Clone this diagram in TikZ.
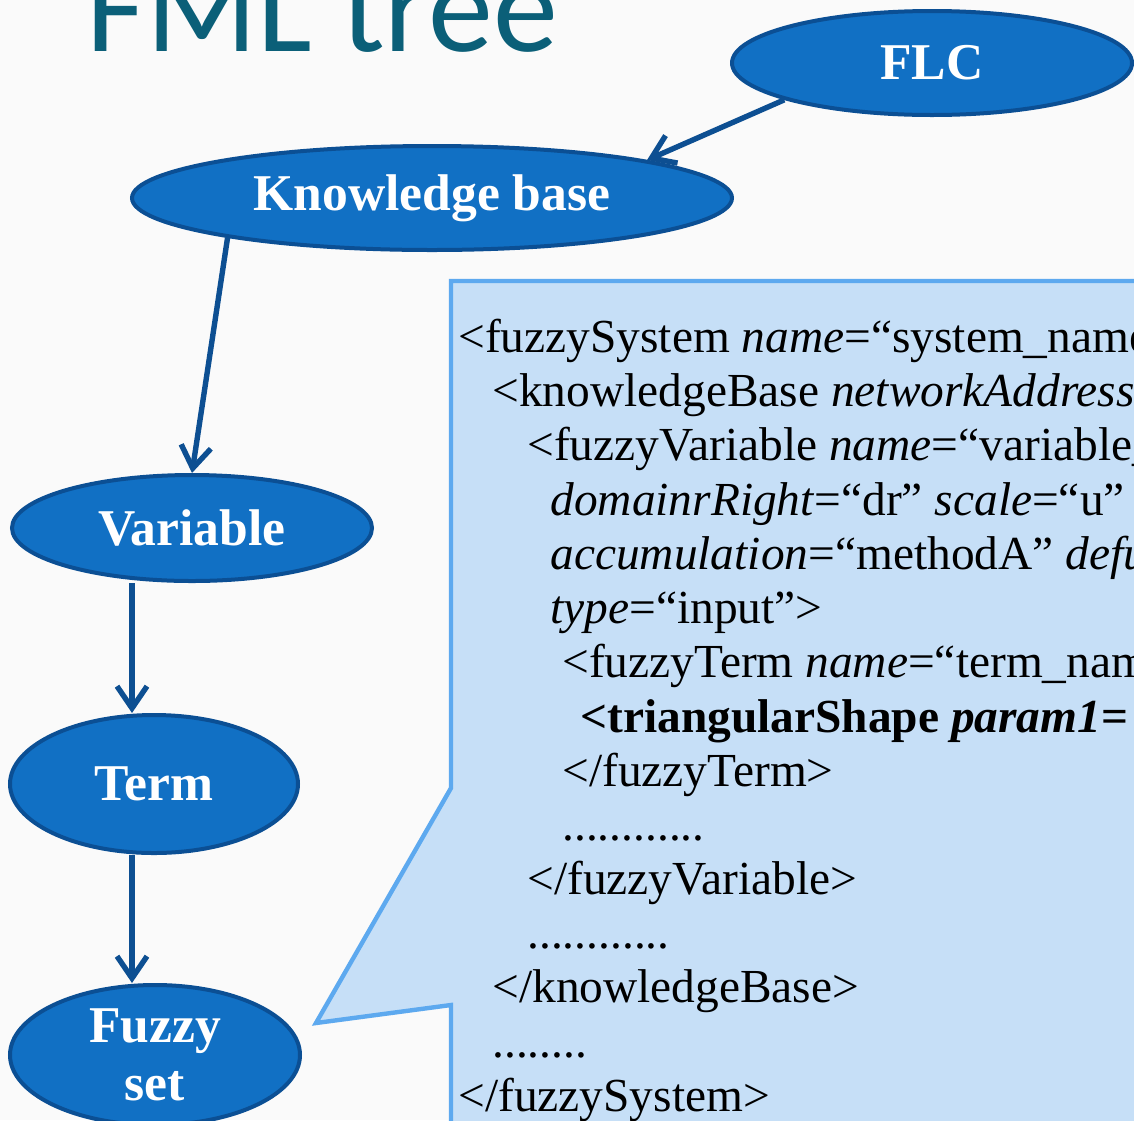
\documentclass[tikz,border=0pt]{standalone}
\usepackage{fontspec}
\setmainfont{Liberation Serif}
\newfontfamily\titlefont{Carlito}
\usetikzlibrary{shapes.geometric,arrows.meta}
\definecolor{nodeblue}{HTML}{1170C4}
\definecolor{nodeedge}{HTML}{0B4F94}
\definecolor{arrowblue}{HTML}{0D4F92}
\definecolor{calloutfill}{HTML}{C6DFF7}
\definecolor{calloutedge}{HTML}{5DA9EF}
\definecolor{titleteal}{HTML}{0B5F78}
\definecolor{slidebg}{HTML}{FAFAFA}
\tikzset{
  treenode/.style={ellipse, fill=nodeblue, draw=nodeedge, line width=2pt,
    text=white, font=\bfseries\fontsize{25.8}{29}\selectfont, inner sep=0pt},
  treearrow/.style={arrowblue, line width=2.7pt,
    -{Straight Barb[length=11pt,width=15pt]}},
  codeline/.style={anchor=base west, inner sep=0pt,
    font=\fontsize{23.7}{27}\selectfont},
}

\begin{document}
\begin{tikzpicture}[x=0.5pt,y=-0.5pt]
  \useasboundingbox (0,0) rectangle (1134,1120);
  \clip (0,0) rectangle (1134,1120);
  \fill[slidebg] (0,0) rectangle (1134,1120);
  % title, cut off at the top
  \node[anchor=base west, inner sep=0pt, text=titleteal,
    font=\titlefont\fontsize{65}{65}\selectfont] (title) at (86,51) {FML tree};
  % callout with the xml
  \filldraw[fill=calloutfill, draw=calloutedge, line width=2.2pt]
    (451,281) -- (1150,281) -- (1150,1140) -- (451,1140) -- (451,1005)
    -- (316,1023) -- (451,788) -- cycle;
  \node[codeline] (c1) at (458,352) {<fuzzySystem \textit{name}=“system\_name};
  \node[codeline] (c2) at (492,406) {<knowledgeBase \textit{networkAddress}};
  \node[codeline] (c3) at (527,460) {<fuzzyVariable \textit{name}=“variable\_};
  \node[codeline] (c4) at (550,515) {\textit{domainrRight}=“dr” \textit{scale}=“u” \textit{d}};
  \node[codeline] (c5) at (550,569) {\textit{accumulation}=“methodA” \textit{defu}};
  \node[codeline] (c6) at (550,623) {\textit{type}=“input”>};
  \node[codeline] (c7) at (562,677) {<fuzzyTerm \textit{name}=“term\_nam};
  \node[codeline] (c8) at (580,732) {\textbf{<triangularShape \textit{param1}=}};
  \node[codeline] (c9) at (562,786) {</fuzzyTerm>};
  \node[codeline] (c10) at (562,840) {............};
  \node[codeline] (c11) at (527,894) {</fuzzyVariable>};
  \node[codeline] (c12) at (527,948) {............};
  \node[codeline] (c13) at (492,1002) {</knowledgeBase>};
  \node[codeline] (c14) at (492,1057) {........};
  \node[codeline] (c15) at (458,1111) {</fuzzySystem>};
  % tree
  \node[treenode, minimum width=200pt, minimum height=52pt] (flc) at (932,63) {FLC};
  \node[treenode, minimum width=300pt, minimum height=52pt] (kb) at (432,198) {Knowledge base};
  \node[treenode, minimum width=180pt, minimum height=53pt] (var) at (192,528) {Variable};
  \node[treenode, minimum width=144pt, minimum height=69pt] (term) at (154,784) {Term};
  \node[treenode, minimum width=145pt, minimum height=70pt, align=center] (fset) at (155,1055) {Fuzzy\\set};
  \draw[treearrow] (flc.194.6) -- (kb.10);
  \draw[treearrow] (kb.191) -- (var.north);
  \draw[treearrow] ([xshift=-30pt]var.south) -- ([xshift=-11pt]term.north);
  \draw[treearrow] ([xshift=-11pt]term.south) -- ([xshift=-11.5pt]fset.north);
\end{tikzpicture}
\end{document}
